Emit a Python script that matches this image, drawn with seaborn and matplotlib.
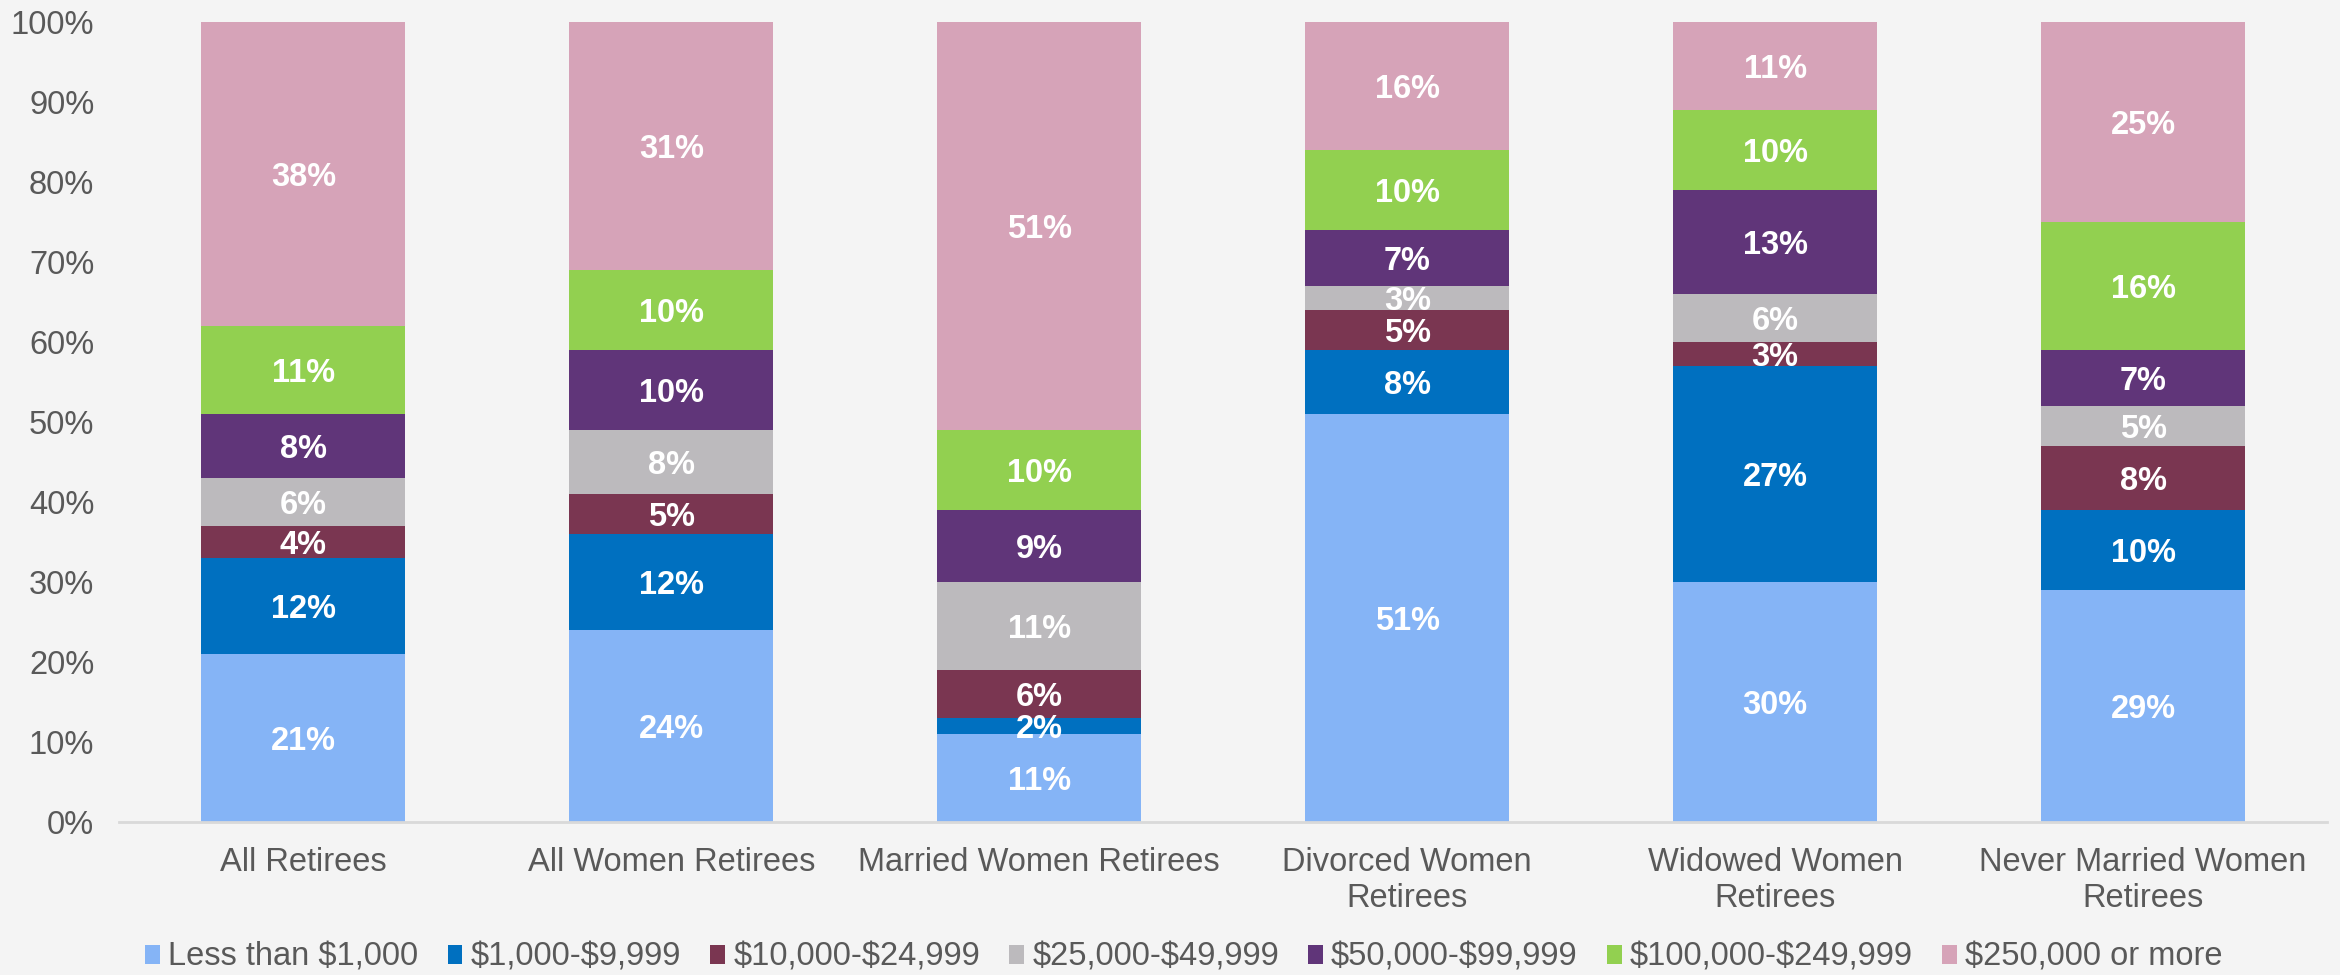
import numpy as np
import pandas as pd
import seaborn as sns
import matplotlib.pyplot as plt
from matplotlib.patches import Patch

# Categories and series (percent of retirees in each savings bracket)
groups = ['All Retirees', 'All Women Retirees', 'Married Women Retirees',
          'Divorced Women\nRetirees', 'Widowed Women\nRetirees', 'Never Married Women\nRetirees']
brackets = ['Less than $1,000', '$1,000-$9,999', '$10,000-$24,999', '$25,000-$49,999',
            '$50,000-$99,999', '$100,000-$249,999', '$250,000 or more']
less_1k = [21, 24, 11, 51, 30, 29]
k1_10k = [12, 12, 2, 8, 27, 10]
k10_25k = [4, 5, 6, 5, 3, 8]
k25_50k = [6, 8, 11, 3, 6, 5]
k50_100k = [8, 10, 9, 7, 13, 7]
k100_250k = [11, 10, 10, 10, 10, 16]
k250_plus = [38, 31, 51, 16, 11, 25]
yticks = list(range(0, 101, 10))

colors = ['#85B4F6', '#0070C0', '#7A3651', '#BCBABD', '#603579', '#92D050', '#D6A3B8']

series = [less_1k, k1_10k, k10_25k, k25_50k, k50_100k, k100_250k, k250_plus]
df = pd.DataFrame(np.array(series).T, columns=brackets)
df.insert(0, 'group', groups)
cum = df[brackets].cumsum(axis=1)

sns.set_style('white')
plt.rcParams['font.family'] = ['Liberation Sans', 'DejaVu Sans']
plt.rcParams['text.parse_math'] = False  # keep the dollar signs literal
bg = '#F4F4F4'
txt = '#595959'
fs = 23.5

fig, ax = plt.subplots(figsize=(23.4, 9.75), dpi=100)
fig.patch.set_facecolor(bg)
ax.set_facecolor(bg)

# stack by drawing cumulative totals, tallest first
for i in reversed(range(len(brackets))):
    sns.barplot(x=df['group'], y=cum[brackets[i]], color=colors[i], width=0.555,
                linewidth=0, saturation=1, ax=ax)

# segment labels
for j in range(len(groups)):
    for i, b in enumerate(brackets):
        v = df.loc[j, b]
        mid = cum.loc[j, b] - v / 2
        ax.text(j, mid, f'{v}%', ha='center', va='center_baseline', color='white',
                fontsize=fs, fontweight='bold')

ax.set_xlim(-0.5, len(groups) - 0.5)
ax.set_ylim(0, 100)
ax.set_yticks(yticks)
ax.set_yticklabels([f'{t}%' for t in yticks])
ax.set_xlabel('')
ax.set_ylabel('')
ax.tick_params(axis='both', length=0, labelsize=fs, labelcolor=txt)
ax.tick_params(axis='x', pad=18)
ax.tick_params(axis='y', pad=18)
for s in ['top', 'right', 'left']:
    ax.spines[s].set_visible(False)
ax.spines['bottom'].set_color('#D9D9D9')
ax.spines['bottom'].set_linewidth(2)

handles = [Patch(facecolor=c, edgecolor='none') for c in colors]
fig.legend(handles, brackets, loc='lower center', bbox_to_anchor=(0.506, -0.028),
           ncol=7, frameon=False, fontsize=fs, labelcolor=txt,
           handlelength=0.45, handleheight=0.55, handletextpad=0.25, columnspacing=0.9)

plt.subplots_adjust(left=0.051, right=0.9945, top=0.9774, bottom=0.157)
plt.savefig('out.png', dpi=100, facecolor=bg)
